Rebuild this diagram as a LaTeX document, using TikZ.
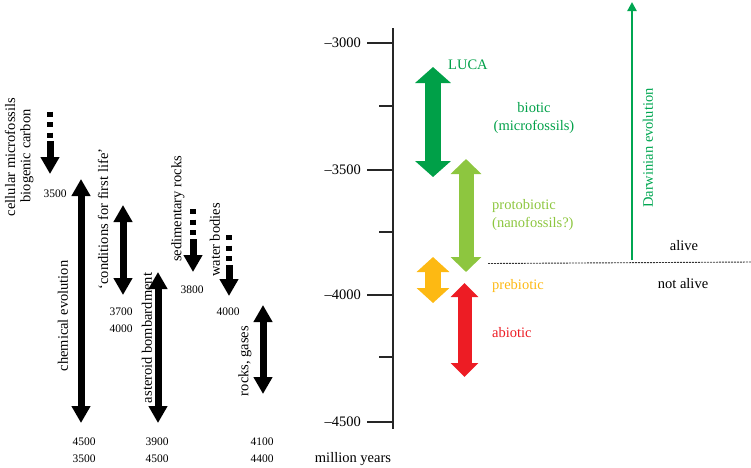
\documentclass[tikz,border=0pt]{standalone}
\usepackage{fontspec}
\setmainfont{Liberation Serif}
\usetikzlibrary{arrows.meta}
\definecolor{dkgreen}{RGB}{0,160,72}
\definecolor{ltgreen}{RGB}{141,198,63}
\definecolor{orng}{RGB}{253,185,19}
\definecolor{redc}{RGB}{237,28,36}
\definecolor{dgreen}{RGB}{0,166,81}
\tikzset{
  lbl/.style={inner sep=0pt, font=\fontsize{14.5}{18}\selectfont},
  vlbl/.style={lbl, rotate=90},
  num/.style={inner sep=0pt, font=\fontsize{11.5}{13}\selectfont},
  blk/.style={line width=7pt, {Triangle[width=18pt,length=17pt]}-{Triangle[width=18pt,length=17pt]}},
  blkdown/.style={line width=7pt, -{Triangle[width=18pt,length=17pt]}},
  dots/.style={line width=6pt, dash pattern=on 5pt off 5.5pt},
  axisline/.style={line width=2.4pt, black!85},
}
\begin{document}
\begin{tikzpicture}[x=1pt,y=-1pt]
\useasboundingbox (0,0) rectangle (751,467);

% ---------- left: black arrows ----------
\draw[dots] (50,111.7) -- (50,140);
\draw[blkdown] (50,141) -- (50,174);
\draw[blk] (81,179) -- (81,423);
\draw[blk] (123,205) -- (123,295);
\draw[blk] (158,272) -- (158,423);
\draw[dots] (193,209) -- (193,238);
\draw[blkdown] (193,239) -- (193,272);
\draw[dots] (229,235) -- (229,264);
\draw[blkdown] (229,265) -- (229,296);
\draw[blk] (263,305) -- (263,394);

% left labels
\node[vlbl] (cm) at (10,157) {cellular microfossils};
\node[vlbl] (bc) at (27,156) {biogenic carbon};
\node[vlbl] (ce) at (63,316) {chemical evolution};
\node[vlbl] (cf) at (103,219) {‘conditions for first life’};
\node[vlbl] (ab) at (147,338) {asteroid bombardment};
\node[vlbl] (sr) at (178,209) {sedimentary rocks};
\node[vlbl] (wb) at (215,240) {water bodies};
\node[vlbl] (rg) at (245,361) {rocks, gases};

% numbers
\node[num] (n1) at (55,194) {3500};
\node[num] (n2) at (121,312) {3700};
\node[num] (n3) at (121,329) {4000};
\node[num] (n4) at (192,290) {3800};
\node[num] (n5) at (228,312) {4000};
\node[num] (n6) at (84,442) {4500};
\node[num] (n7) at (84,459) {3500};
\node[num] (n8) at (157,442) {3900};
\node[num] (n9) at (157,459) {4500};
\node[num] (n10) at (262,442) {4100};
\node[num] (n11) at (262,459) {4400};

% ---------- axis ----------
\draw[axisline] (393,28) -- (393,429);
\foreach \y/\t in {43/–3000,170/–3500,295/–4000,422/–4500}{
  \draw[axisline] (367,\y) -- (393,\y);
  \node[lbl, anchor=east] at (361,\y) {\t};
}
\foreach \y in {106,232,357}{
  \draw[axisline] (379,\y) -- (393,\y);
}
\node[lbl] (my) at (353,459) {million years};

% ---------- coloured arrows ----------
\draw[dkgreen, line width=16pt, {Triangle[width=35pt,length=16pt]}-{Triangle[width=35pt,length=16pt]}] (433,67) -- (433,177);
\draw[ltgreen, line width=15pt, {Triangle[width=30pt,length=15pt]}-{Triangle[width=30pt,length=15pt]}] (466,159) -- (466,272);
\draw[orng, line width=16pt, {Triangle[width=32pt,length=15pt]}-{Triangle[width=32pt,length=15pt]}] (433,257) -- (433,303);
\draw[redc, line width=14pt, {Triangle[width=27pt,length=14pt]}-{Triangle[width=27pt,length=14pt]}] (464.5,283) -- (464.5,377);

\node[lbl, text=dkgreen, anchor=west] (luca) at (448,65) {LUCA};
\node[lbl, text=dkgreen, align=center] (bio) at (534,118) {biotic\\(microfossils)};
\node[lbl, text=ltgreen, align=left, anchor=west] (proto) at (492,215) {protobiotic\\(nanofossils?)};
\node[lbl, text=orng, anchor=west] (pre) at (492,286) {prebiotic};
\node[lbl, text=redc, anchor=west] (abio) at (492,333) {abiotic};

% ---------- Darwinian ----------
\draw[dgreen, line width=2.6pt, -{Triangle[width=9pt,length=9pt]}] (632,260) -- (632,2);
\node[vlbl, text=dgreen] (dar) at (648,148) {Darwinian evolution};

\draw[black!80, line width=0.9pt, dash pattern=on 2pt off 1pt] (488,263.5) -- (751,262);
\node[lbl] (alive) at (684,246) {alive};
\node[lbl] (nalive) at (683,284) {not alive};
\end{tikzpicture}
\end{document}
